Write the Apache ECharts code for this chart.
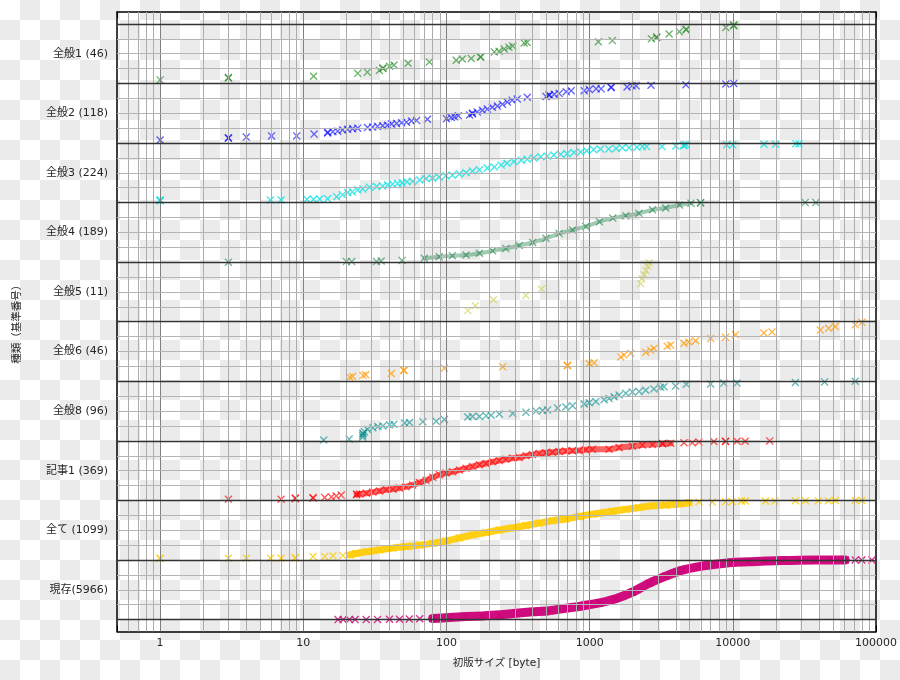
<!DOCTYPE html>
<html>
<head>
<meta charset="utf-8">
<script src="https://cdn.jsdelivr.net/npm/echarts@6.0.0/dist/echarts.min.js"></script>
<style>
html,body{margin:0;padding:0;}
body{width:900px;height:680px;background:repeating-conic-gradient(#ebebeb 0 25%, #ffffff 0 50%) 0 0/40px 40px;}
#c{width:900px;height:680px;}
</style>
</head>
<body>
<div id="c"></div>
<script>
// ---------------- data ----------------
// categories from bottom band to top band
const categories = ['現存(5966)','全て (1099)','記事1 (369)','全般8 (96)','全般6 (46)','全般5 (11)','全般4 (189)','全般3 (224)','全般2 (118)','全般1 (46)'];
const xTickLabels = ['1','10','100','1000','10000','100000'];
const xMinorMult = [2,3,4,5,6,7,8,9];
const xAxisName = '初版サイズ [byte]';
const yAxisName = '種類（基準番号）';

// each point: [size in bytes, cumulative share within the category (0..1)]
const zenpan1 = [[1,.06],[3,.09],[3,.10],[11.8,.12],[24,.17],[28,.19],[34,.22],[36,.25],[36,.26],[40,.29],[43,.31],[54,.34],[76,.36],[117,.39],[129,.41],[149,.42],[173,.44],[173,.45],[216,.53],[233,.54],[253,.58],[273,.61],[290,.63],[349,.68],[366,.69],[1150,.70],[1440,.72],[2700,.75],[2940,.77],[2940,.78],[3590,.83],[4230,.87],[4720,.90],[4720,.91],[8940,.94],[10150,.97],[10150,.98]];
const zenpan2 = [[1,.05],[3,.08],[3,.09],[4,.10],[6,.12],[9,.12],[11.9,.15],[14.8,.17],[14.8,.18],[16.1,.19],[17.4,.20],[18.8,.22],[20.4,.23],[22.1,.24],[24,.25],[28.1,.26],[30.5,.27],[33,.28],[35.8,.29],[38.8,.30],[41.4,.32],[44.8,.33],[48.6,.34],[52.6,.35],[57,.37],[61.8,.38],[73.7,.40],[100,.41],[108,.43],[114,.44],[121,.46],[145,.47],[152,.49],[152,.50],[164,.52],[178,.55],[193,.57],[209,.60],[227,.62],[246,.65],[266,.69],[288,.72],[312,.74],[367,.77],[497,.78],[522,.80],[522,.81],[566,.82],[613,.83],[686,.86],[743,.88],[916,.88],[993,.90],[1110,.91],[1203,.91],[1413,.93],[1413,.94],[1825,.94],[1978,.96],[2110,.96],[2683,.97],[4700,.98],[8940,.99],[10160,1.0]];
const zenpan3 = [[1,.03],[1,.04],[1,.045],[5.9,.045],[7,.045],[10.6,.055],[11.8,.055],[13,.06],[14.8,.065],[17.1,.10],[18.8,.13],[20.4,.17],[22,.18],[24,.21],[26,.23],[29,.26],[32.5,.27],[35.8,.28],[38.8,.30],[42,.31],[45.6,.32],[49,.33],[53,.35],[58,.36],[65,.38],[72,.40],[80,.41],[89,.43],[99,.45],[110,.46],[123,.48],[137,.50],[152,.53],[170,.55],[193,.58],[216,.60],[241,.63],[265,.66],[296,.69],[333,.71],[366,.73],[408,.75],[456,.77],[505,.78],[563,.80],[628,.81],[695,.82],[777,.84],[866,.85],[955,.87],[1065,.89],[1190,.90],[1360,.90],[1530,.91],[1690,.92],[1890,.92],[2140,.93],[2340,.94],[2500,.94],[3200,.94],[4000,.95],[4550,.96],[4550,.965],[4720,.97],[9050,.97],[10000,.97],[16500,.98],[19900,.98],[27500,.99],[29000,.99]];
const zenpan4 = [[3,0],[20,.01],[21.8,.01],[32.5,.01],[35,.02],[49,.03],[70,.065],[89,.09],[110,.11],[137,.12],[170,.15],[210,.19],[260,.23],[322,.28],[400,.33],[495,.40],[612,.48],[760,.54],[940,.60],[1170,.68],[1450,.74],[1790,.78],[2210,.82],[2750,.88],[3400,.91],[4240,.96],[5100,.99],[5950,.995],[5950,1.0],[32000,1.0],[38000,1.0]];
const zenpan5 = [[141,.19],[159,.27],[213,.37],[359,.44],[461,.55],[2275,.64],[2320,.72],[2400,.79],[2475,.86],[2555,.93],[2600,.99]];
const zenpan6 = [[21.1,.07],[22.1,.08],[26.1,.10],[27.3,.11],[41.2,.13],[50.4,.18],[50.4,.19],[96.8,.22],[247,.245],[700,.26],[700,.27],[993,.30],[1075,.31],[1650,.41],[1738,.44],[1935,.47],[2464,.49],[2670,.52],[2813,.55],[3485,.59],[3680,.61],[4557,.64],[4936,.66],[5500,.68],[7000,.72],[8890,.74],[10440,.78],[16450,.81],[18790,.83],[40840,.86],[46660,.89],[51960,.92],[71600,.95],[79620,.99]];
const zenpan8 = [[13.9,.015],[20.9,.03],[26,.06],[26,.09],[26.1,.12],[26.1,.13],[26.7,.155],[28.1,.19],[30.6,.22],[33.2,.24],[36,.25],[40.1,.27],[42.9,.28],[51,.30],[55.2,.31],[68.4,.32],[84.8,.33],[96.8,.36],[141,.40],[152,.41],[170,.41],[189,.42],[205,.43],[234,.45],[290,.46],[359,.48],[422,.50],[469,.51],[508,.52],[597,.55],[682,.57],[759,.59],[916,.62],[993,.64],[1105,.66],[1262,.69],[1367,.71],[1482,.74],[1606,.77],[1788,.80],[1988,.82],[2213,.83],[2464,.85],[2813,.87],[3133,.90],[3304,.91],[3990,.92],[4730,.95],[7000,.955],[8650,.97],[10700,.97],[27350,.98],[43760,.99],[71600,1.0]];
const kiji1 = [[3,.02],[7,.02],[8.8,.03],[8.8,.04],[11.7,.04],[11.7,.045],[14.1,.05],[15.7,.06],[17,.075],[18.4,.09],[23.6,.10],[23.6,.105],[24.7,.11],[27.6,.12],[30.6,.14],[34.1,.16],[38,.18],[42.2,.19],[46.9,.21],[52.3,.23],[58.1,.26],[64.7,.30],[72,.34],[80.2,.39],[89.2,.43],[99.3,.46],[110.5,.48],[123,.51],[137,.54],[152,.57],[170,.60],[189,.62],[210,.65],[234,.67],[260,.69],[290,.71],[322,.72],[359,.75],[399,.77],[444,.79],[494,.80],[550,.81],[612,.82],[682,.83],[759,.835],[844,.84],[940,.85],[1046,.86],[1367,.86],[1606,.89],[1990,.91],[2340,.93],[2750,.94],[3230,.95],[3230,.955],[3680,.96],[4557,.97],[5210,.97],[5800,.98],[7370,.99],[8890,.99],[8890,.995],[10700,.993],[12200,.993],[18100,1.0]];
const subete = [[1,.025],[1,.03],[3,.03],[4,.03],[5.9,.03],[7,.03],[8.8,.035],[8.8,.04],[11.7,.057],[14.1,.057],[16.1,.07],[18.9,.074],[21.1,.086],[23.4,.11],[27.6,.14],[34.1,.17],[42.2,.20],[52.3,.225],[64.7,.25],[80.2,.28],[99.3,.32],[123,.37],[152,.42],[189,.46],[234,.505],[290,.54],[359,.58],[444,.62],[550,.66],[682,.69],[844,.73],[1046,.77],[1170,.785],[1440,.82],[1790,.85],[2210,.88],[2750,.91],[3400,.925],[4240,.94],[4940,.96],[5800,.975],[7190,.975],[8890,.98],[9930,.98],[11500,.99],[12200,.99],[16900,.99],[19700,.99],[27350,.997],[32100,.997],[39500,.997],[46500,.997],[51900,1.0],[71600,1.0],[79600,1.0]];
const genzon = [[17.5,0],[19,0],[21,0],[23,0],[27.5,0],[33,.003],[40,.005],[47,.007],[55,.01],[65,.013],[80,.017],[104.5,.034],[137,.05],[178,.062],[234,.08],[306,.107],[400,.13],[522,.15],[682,.19],[844,.22],[993,.25],[1170,.28],[1520,.35],[1990,.46],[2600,.61],[3400,.73],[4440,.83],[5800,.89],[7570,.93],[9900,.96],[12900,.97],[16900,.985],[22100,.99],[28900,.997],[37700,1.0],[49300,1.0],[61000,1.0],[71600,1.0],[79600,1.0],[93700,1.0]];

// ---------------- styles ----------------
const seriesDefs = [
  {data: genzon,  color: '#cc0077', opacity: 0.8,  core: [80, 70000], coreWidth: 9,   coreOpacity: 0.95},
  {data: subete,  color: '#ffcc00', opacity: 0.8,  core: [20, 5000],  coreWidth: 7,   coreOpacity: 0.9},
  {data: kiji1,   color: '#ff0000', opacity: 0.65, core: [22, 4000],  coreWidth: 6,   coreOpacity: 0.6},
  {data: zenpan8, color: '#008b8b', opacity: 0.6},
  {data: zenpan6, color: '#ff9900', opacity: 0.7},
  {data: zenpan5, color: '#c8c840', opacity: 0.55},
  {data: zenpan4, color: '#2e8b57', opacity: 0.65, core: [60, 5200],  coreWidth: 4,   coreOpacity: 0.45},
  {data: zenpan3, color: '#00e0e0', opacity: 0.75},
  {data: zenpan2, color: '#0000ff', opacity: 0.6},
  {data: zenpan1, color: '#228b22', opacity: 0.65}
];

const X_MIN = 0.5, X_MAX = 100000, Y_MIN = -0.2, Y_MAX = 10.2;
const TXT = '#262626';
const FONT = '"DejaVu Sans", "Noto Sans CJK JP", sans-serif';
const XMARK = 'path://M0,1.2L1.2,0L10,8.8L8.8,10ZM8.8,0L10,1.2L1.2,10L0,8.8Z';

const xDecades = xTickLabels.map(Number);
const xMinor = [];
[0.1].concat(xDecades).forEach(d => xMinorMult.forEach(m => { const v = d * m; if (v > X_MIN && v < X_MAX) xMinor.push(v); }));
const yMajor = categories.map((_, i) => i + 0.5);
const yMinor = [0].concat(categories.map((_, i) => i + 0.25));

const gridLines = [];
xMinor.forEach(v => gridLines.push({xAxis: v, lineStyle: {color: '#acacac', width: 1, type: 'solid'}}));
xDecades.filter(v => v < X_MAX).forEach(v => gridLines.push({xAxis: v, lineStyle: {color: '#808080', width: 1, type: 'solid'}}));
categories.forEach((_, i) => [0.25, 0.5, 0.75].forEach(q => gridLines.push({yAxis: i + q, lineStyle: {color: '#b4b4b4', width: 1, type: 'solid'}})));
for (let i = 0; i <= categories.length; i++) gridLines.push({yAxis: i, lineStyle: {color: '#333333', width: 1.3, type: 'solid'}});

const series = [{
  type: 'line', data: [], xAxisIndex: 0, yAxisIndex: 0, z: 1, silent: true,
  markLine: {silent: true, symbol: ['none', 'none'], label: {show: false}, animation: false, data: gridLines}
}];

seriesDefs.forEach((s, k) => {
  const pts = s.data.map(([v, f]) => [v, k + f]);
  if (s.core) {
    series.push({
      type: 'line', xAxisIndex: 0, yAxisIndex: 0, z: 2, silent: true,
      data: pts.filter(p => p[0] >= s.core[0] && p[0] <= s.core[1]),
      showSymbol: false, smooth: 0.3,
      lineStyle: {color: s.color, width: s.coreWidth, opacity: s.coreOpacity, cap: 'round', join: 'round'}
    });
  }
  series.push({
    type: 'scatter', name: categories[k], xAxisIndex: 0, yAxisIndex: 0, z: 3, silent: true,
    data: pts, symbol: XMARK, symbolSize: 8,
    itemStyle: {color: s.color, opacity: s.opacity}
  });
});

const xLabelFmt = v => {
  const l = Math.log10(v), r = Math.round(l);
  return (Math.abs(l - r) < 1e-6 && r >= 0 && r < xTickLabels.length) ? xTickLabels[r] : '';
};

const spine = {show: true, onZero: false, lineStyle: {color: '#000', width: 1.5}};
const noLine = {show: false, onZero: false};
const tickStyle = {color: '#000', width: 1};
const option = {
  animation: false,
  backgroundColor: 'transparent',
  textStyle: {fontFamily: FONT, color: TXT},
  grid: {left: 117, top: 12, width: 760.5, height: 619.5, containLabel: false},
  xAxis: [
    {type: 'log', logBase: 10, min: X_MIN, max: X_MAX, position: 'bottom',
     axisLine: spine, axisTick: {inside: true, length: 6, lineStyle: tickStyle},
     axisLabel: {formatter: xLabelFmt, fontSize: 11, color: TXT, margin: 6, fontFamily: FONT},
     splitLine: {show: false},
     name: xAxisName, nameLocation: 'middle', nameGap: 27,
     nameTextStyle: {fontSize: 10.5, color: TXT, fontFamily: FONT}},
    {type: 'log', logBase: 10, min: X_MIN, max: X_MAX, position: 'top',
     axisLine: spine, axisTick: {inside: true, length: 6, lineStyle: tickStyle},
     axisLabel: {show: false}, splitLine: {show: false}},
    {type: 'value', min: Math.log10(X_MIN), max: Math.log10(X_MAX), position: 'bottom',
     axisLine: noLine, axisTick: {inside: true, length: 3, customValues: xMinor.map(v => Math.log10(v)), lineStyle: tickStyle},
     axisLabel: {show: false}, splitLine: {show: false}},
    {type: 'value', min: Math.log10(X_MIN), max: Math.log10(X_MAX), position: 'top',
     axisLine: noLine, axisTick: {inside: true, length: 3, customValues: xMinor.map(v => Math.log10(v)), lineStyle: tickStyle},
     axisLabel: {show: false}, splitLine: {show: false}}
  ],
  yAxis: [
    {type: 'value', min: Y_MIN, max: Y_MAX, position: 'left',
     axisLine: spine, axisTick: {inside: true, length: 6, customValues: yMajor, lineStyle: tickStyle},
     axisLabel: {customValues: yMajor, formatter: v => categories[Math.floor(v)], fontSize: 11, color: TXT, margin: 9, fontFamily: FONT},
     splitLine: {show: false},
     name: yAxisName, nameLocation: 'middle', nameGap: 94, nameRotate: 90,
     nameTextStyle: {fontSize: 10.5, color: TXT, fontFamily: FONT}},
    {type: 'value', min: Y_MIN, max: Y_MAX, position: 'left',
     axisLine: noLine, axisTick: {inside: true, length: 3, customValues: yMinor, lineStyle: tickStyle},
     axisLabel: {show: false}, splitLine: {show: false}},
    {type: 'value', min: Y_MIN, max: Y_MAX, position: 'right',
     axisLine: spine, axisTick: {inside: true, length: 6, customValues: yMajor, lineStyle: tickStyle},
     axisLabel: {show: false}, splitLine: {show: false}},
    {type: 'value', min: Y_MIN, max: Y_MAX, position: 'right',
     axisLine: noLine, axisTick: {inside: true, length: 3, customValues: yMinor, lineStyle: tickStyle},
     axisLabel: {show: false}, splitLine: {show: false}}
  ],
  series: series
};

const chart = echarts.init(document.getElementById('c'), null, {renderer: 'canvas', width: 900, height: 680});
chart.setOption(option);
</script>
</body>
</html>
